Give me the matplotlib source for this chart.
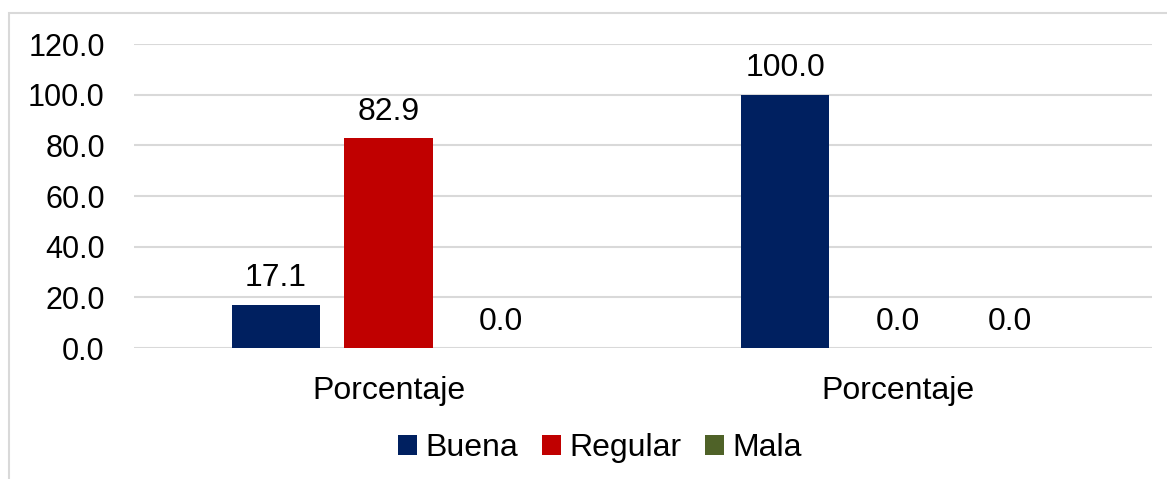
import matplotlib
matplotlib.use("Agg")
import matplotlib.pyplot as plt
import numpy as np
from matplotlib.patches import Rectangle

plt.rcParams['font.family'] = ['Liberation Sans', 'DejaVu Sans']

categories = ["Porcentaje", "Porcentaje"]
series = ["Buena", "Regular", "Mala"]
buena = [17.1, 100.0]
regular = [82.9, 0.0]
mala = [0.0, 0.0]
colors = ["#002060", "#C00000", "#4F6228"]
yticks = [0, 20, 40, 60, 80, 100, 120]

W, H = 1167, 479
fs = 23
fig = plt.figure(figsize=(W / 100, H / 100), dpi=100)
ax = fig.add_axes([134 / W, 1 - 348 / H, (1152 - 134) / W, (348 - 44) / H])

# chart area border (extends beyond the image on right/bottom)
fig.patches.append(Rectangle((9 / W, -0.1), 1.2, 1 - 13 / H + 0.1, transform=fig.transFigure,
                             fill=False, edgecolor="#D9D9D9", linewidth=1.5))

x = np.arange(len(categories))
width = 0.174
step = 0.221
for i, (vals, name) in enumerate(zip([buena, regular, mala], series)):
    pos = x + (i - 1) * step
    ax.bar(pos, vals, width, color=colors[i], label=name, zorder=3)
    for p, v in zip(pos, vals):
        ax.text(p, v + 4.5, f"{v:.1f}", ha="center", va="bottom", fontsize=fs, color="#000000")

ax.set_xlim(-0.5, 1.5)
ax.set_ylim(0, 120)
ax.set_yticks(yticks)
ax.set_yticklabels([f"{t:.1f}" for t in yticks], fontsize=22)
ax.set_xticks(x)
ax.set_xticklabels(categories, fontsize=fs)
ax.tick_params(axis="y", length=0, pad=21)
ax.tick_params(axis="x", length=0, pad=20)
ax.yaxis.grid(True, color="#D9D9D9", linewidth=1.5, zorder=0)
for s in ax.spines.values():
    s.set_visible(False)

fig.legend(loc="center", bbox_to_anchor=(600 / W, 1 - 448 / H), ncol=3, frameon=False,
           fontsize=fs, handlelength=0.6, handleheight=0.6, handletextpad=0.25,
           columnspacing=0.75)

fig.savefig("out.png", dpi=100)
